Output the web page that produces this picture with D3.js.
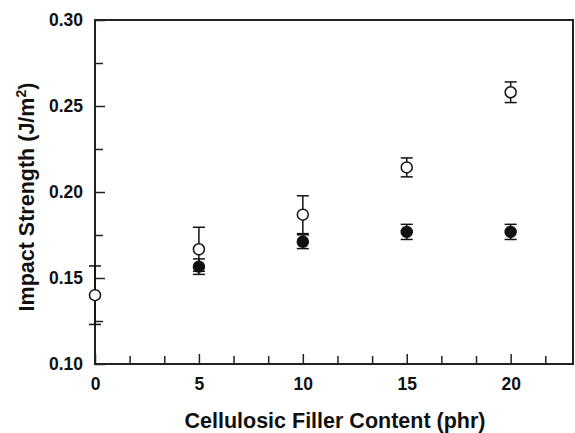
<!DOCTYPE html>
<html><head><meta charset="utf-8">
<script src="https://cdn.jsdelivr.net/npm/d3@7"></script>
<style>body{margin:0;background:#fff}svg{display:block}text{font-family:"Liberation Sans",Arial,sans-serif;font-weight:bold;fill:#111}</style>
</head><body>
<script>
const filler = [0, 5, 10, 15, 20];
const openVals = [0.140, 0.1667, 0.1868, 0.2143, 0.258];
const openErr  = [0.017, 0.0128, 0.011, 0.0055, 0.006];
const filledX   = [5, 10, 15, 20];
const filledVals = [0.1566, 0.1711, 0.1768, 0.1768];
const filledErr  = [0.0045, 0.004, 0.0044, 0.0044];
const xMajor = [0, 5, 10, 15, 20];
const yMajor = [0.10, 0.15, 0.20, 0.25, 0.30];

const W = 575, H = 433;
const m = {l: 95, r: 2, t: 20, b: 69};
const svg = d3.select("body").append("svg").attr("width", W).attr("height", H);
const x = d3.scaleLinear().domain([0, 23]).range([m.l, W - m.r]);
const y = d3.scaleLinear().domain([0.10, 0.30]).range([H - m.b, m.t]);

const xMinor = d3.range(0, 23, 5/3).filter(v => Math.abs(v/5 - Math.round(v/5)) > 1e-6);
const yMinor = [0.125, 0.175, 0.225, 0.275];

const g = svg.append("g");
g.append("g").attr("transform", `translate(0,${y(0.10)})`)
  .call(d3.axisBottom(x).tickValues(xMajor).tickSize(-10).tickPadding(13.5).tickFormat(d3.format("d")));
g.append("g").attr("transform", `translate(0,${y(0.10)})`)
  .call(d3.axisBottom(x).tickValues(xMinor).tickSize(-8).tickFormat(""));
g.append("g").attr("transform", `translate(${x(0)},0)`)
  .call(d3.axisLeft(y).tickValues(yMajor).tickSize(-10).tickPadding(12).tickFormat(d3.format(".2f")));
g.append("g").attr("transform", `translate(${x(0)},0)`)
  .call(d3.axisLeft(y).tickValues(yMinor).tickSize(-8).tickFormat(""));
g.selectAll(".domain").remove();
g.selectAll(".tick line").attr("stroke", "#222").attr("stroke-width", 1.5);
g.selectAll(".tick text").style("font-size", "17.5px").attr("fill", "#111");

svg.append("rect").attr("x", x(0)).attr("y", y(0.30))
  .attr("width", x(23) - x(0)).attr("height", y(0.10) - y(0.30))
  .attr("fill", "none").attr("stroke", "#222").attr("stroke-width", 2);

function drawSeries(xs, vals, errs, fill) {
  const s = svg.append("g");
  xs.forEach((xv, i) => {
    const cx = x(xv), top = y(vals[i] + errs[i]), bot = y(vals[i] - errs[i]);
    s.append("line").attr("x1", cx).attr("x2", cx).attr("y1", top).attr("y2", bot).attr("stroke", "#111").attr("stroke-width", 1.5);
    [top, bot].forEach(yy => s.append("line").attr("x1", cx - 6).attr("x2", cx + 6).attr("y1", yy).attr("y2", yy).attr("stroke", "#111").attr("stroke-width", 1.5));
  });
  s.selectAll("circle").data(xs).enter().append("circle")
    .attr("cx", d => x(d)).attr("cy", (d, i) => y(vals[i])).attr("r", 5.5)
    .attr("fill", fill).attr("stroke", "#111").attr("stroke-width", 1.5);
}
drawSeries(filledX, filledVals, filledErr, "#111");
drawSeries(filler, openVals, openErr, "#fff");

svg.append("text").attr("x", 335).attr("y", 428).attr("text-anchor", "middle")
  .style("font-size", "21.5px").text("Cellulosic Filler Content (phr)");
const yt = svg.append("text").attr("transform", `translate(34,197) rotate(-90)`)
  .attr("text-anchor", "middle").style("font-size", "21.5px");
yt.append("tspan").text("Impact Strength (J/m");
yt.append("tspan").attr("dy", -8).style("font-size", "14px").text("2");
yt.append("tspan").attr("dy", 8).text(")");
</script>
</body></html>
